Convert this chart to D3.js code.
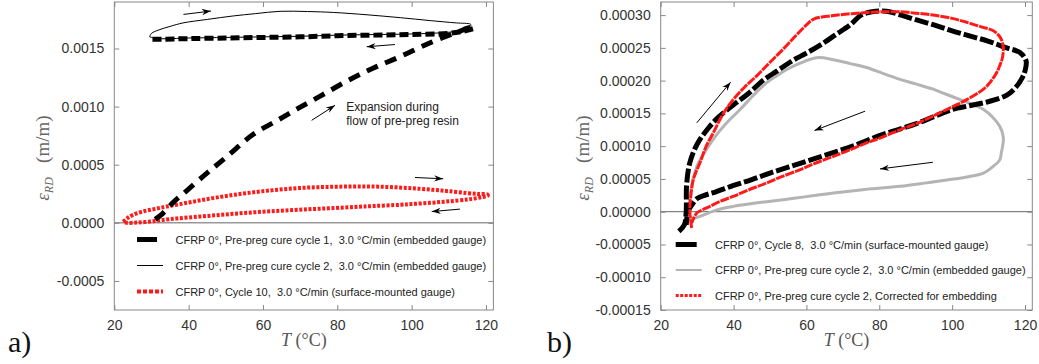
<!doctype html>
<html>
<head>
  <meta charset="utf-8" />
  <script src="https://d3js.org/d3.v7.min.js"></script>
  <style>
    body { margin: 0; background: #fff; }
    svg { display: block; }
    .tick-label { font-family: "Liberation Sans", Arial, sans-serif; font-size: 14px; fill: #333; }
    .legend-text { font-family: "Liberation Sans", Arial, sans-serif; font-size: 11px; fill: #222; white-space: pre; }
    .note { font-family: "Liberation Sans", Arial, sans-serif; font-size: 12px; fill: #222; }
    .serif { font-family: "Liberation Serif", "Times New Roman", serif; }
  </style>
</head>
<body>
<svg width="1039" height="364"></svg>
<script>
// ---- panel a data (T in °C, strain in m/m) ----
var aCycle1HeatT = [31, 33, 36, 39.6, 45, 50.3, 57.3, 63.8, 69.2, 75.4, 82.6, 89.6, 96.9, 105, 112.3, 115.8, 116.5];
var aCycle1HeatS = [0.00003, 0.00008, 0.00018, 0.00028, 0.00043, 0.00057, 0.00076, 0.00088, 0.00098, 0.00109, 0.00122, 0.00133, 0.00143, 0.00155, 0.00164, 0.00168, 0.00167];
var aCycle1CoolT = [116.5, 114, 110, 100, 90, 80, 70, 60, 50, 40, 33, 30];
var aCycle1CoolS = [0.00167, 0.00165, 0.00163, 0.00162, 0.001615, 0.00161, 0.0016, 0.001595, 0.00159, 0.001585, 0.00158, 0.00158];
var aCycle2T = [29.5, 30, 32, 35, 38.5, 45, 52, 58, 64.6, 72, 79, 88, 97, 105, 112, 115.8, 116, 114, 110, 100, 90, 80, 70, 60, 50, 40, 32, 29.5];
var aCycle2S = [0.0016, 0.00163, 0.00166, 0.00169, 0.00172, 0.00175, 0.00178, 0.0018, 0.00182, 0.001818, 0.00181, 0.00179, 0.001765, 0.00174, 0.00172, 0.00171, 0.0017, 0.00166, 0.00164, 0.001625, 0.00162, 0.001615, 0.001605, 0.0016, 0.001595, 0.00159, 0.001585, 0.0016];
var aCycle10T = [22.4, 23.5, 25.1, 28, 31, 34.1, 40, 46, 52, 58, 64, 70, 76, 82, 88, 94, 100, 105.8, 110, 114.9, 118, 120.3, 120.5, 119, 117, 114.9, 110, 105, 100, 96.9, 90, 85, 79, 73, 67, 61, 55, 49, 43, 37, 33, 29.6, 26, 23.3, 22.4];
var aCycle10S = [0.00001, 0.00004, 0.00007, 0.0001, 0.00012, 0.00014, 0.000175, 0.00021, 0.00024, 0.000265, 0.000285, 0.0003, 0.000308, 0.000312, 0.000313, 0.000308, 0.000298, 0.000284, 0.000272, 0.000256, 0.000248, 0.000245, 0.000235, 0.000222, 0.00021, 0.0002, 0.000185, 0.000172, 0.000162, 0.000155, 0.000145, 0.000137, 0.000127, 0.000118, 0.000108, 0.0000975, 0.000085, 0.00007, 0.000054, 0.000038, 0.000025, 0.000011, 0.000002, 0, 0.00001];

// ---- panel b data ----
var bCycle8T = [25, 26.5, 27, 27.1, 28, 30, 33, 36, 40, 44, 48, 52, 56, 60, 64, 68, 72, 75, 78, 82, 86, 90, 95, 100, 105, 110, 115, 118.6, 120.3, 120, 119.3, 117.5, 115, 110, 105, 100, 95, 90, 85, 80, 75, 70, 65, 60, 55, 50, 45, 40, 35, 32, 30, 28.5, 27.5, 27];
var bCycle8S = [-0.00003, -0.00002, 0, 0.00004, 0.000075, 0.000103, 0.000127, 0.000145, 0.000163, 0.00018, 0.0002, 0.000215, 0.00023, 0.000242, 0.000255, 0.00027, 0.000285, 0.0003, 0.000305, 0.000306, 0.0003, 0.000293, 0.000285, 0.000276, 0.000268, 0.00026, 0.00025, 0.000243, 0.00023, 0.000215, 0.000205, 0.00019, 0.000178, 0.000168, 0.000162, 0.000156, 0.000145, 0.000134, 0.000125, 0.000116, 0.000105, 0.000095, 0.000086, 0.000077, 0.000068, 0.000059, 0.000049, 0.00004, 0.00003, 0.000025, 0.00002, 0.00001, 0, -0.00002];
var bEmbedT = [27.5, 27.8, 28.5, 30, 32, 35, 38, 41.8, 45, 49.1, 52, 54.6, 58, 62.8, 67.4, 72, 76.5, 81, 85.7, 90, 94.8, 98, 102.2, 105.5, 108.6, 111, 113.1, 114, 114, 113.5, 113.1, 111, 108.6, 104, 99.4, 93, 85.7, 76, 67.4, 60, 53.6, 47, 39.9, 35, 30.8, 28];
var bEmbedS = [-0.000015, 0.00001, 0.00004, 0.00007, 0.00009, 0.000115, 0.000135, 0.000156, 0.000175, 0.000197, 0.000208, 0.000217, 0.000226, 0.000235, 0.000232, 0.000226, 0.00022, 0.000211, 0.000202, 0.000195, 0.000187, 0.00018, 0.000171, 0.000164, 0.000156, 0.000145, 0.00013, 0.000115, 0.000105, 0.00009, 0.0000795, 0.000068, 0.000059, 0.000053, 0.000049, 0.000044, 0.0000387, 0.000034, 0.0000286, 0.000023, 0.0000183, 0.000014, 0.0000081, 0.000002, -0.0000072, -0.000012];
var bCorrT = [28.5, 28, 28.2, 29, 30.8, 32.5, 34.4, 37, 39.9, 43, 46.3, 50, 53.6, 57, 60, 62, 67, 72, 76.5, 80, 85.7, 90, 94.8, 100, 104, 108, 111.3, 113.2, 114, 113.8, 113, 112.2, 110.5, 108.6, 104, 100, 94.8, 90, 85.7, 80, 76.5, 70, 67.4, 62, 58.3, 53, 49.1, 44, 39.9, 36, 33.5, 31.5, 29.9, 28.5];
var bCorrS = [-0.000025, 0, 0.00002, 0.00005, 0.000075, 0.0001, 0.00012, 0.000148, 0.000171, 0.00019, 0.000207, 0.000228, 0.000248, 0.000268, 0.000285, 0.000294, 0.000299, 0.000302, 0.000304, 0.000305, 0.000305, 0.000303, 0.0003, 0.000295, 0.000289, 0.000282, 0.000276, 0.000266, 0.000252, 0.000235, 0.000222, 0.000212, 0.000198, 0.000187, 0.000171, 0.00016, 0.000146, 0.000134, 0.000125, 0.000112, 0.000105, 0.00009, 0.0000845, 0.000073, 0.0000642, 0.000053, 0.0000439, 0.000033, 0.0000234, 0.000015, 0.0000081, 0.000003, -0.000002, -0.000017];

// ticks
var xTicks = [20, 40, 60, 80, 100, 120];
var aYTicks = [-0.0005, 0, 0.0005, 0.001, 0.0015];
var bYTicks = [-0.00015, -0.0001, -0.00005, 0, 0.00005, 0.0001, 0.00015, 0.0002, 0.00025, 0.0003];

// legends
var aLegend = ["CFRP 0°, Pre-preg cure cycle 1,  3.0 °C/min (embedded gauge)",
               "CFRP 0°, Pre-preg cure cycle 2,  3.0 °C/min (embedded gauge)",
               "CFRP 0°, Cycle 10,  3.0 °C/min (surface-mounted gauge)"];
var bLegend = ["CFRP 0°, Cycle 8,  3.0 °C/min (surface-mounted gauge)",
               "CFRP 0°, Pre-preg cure cycle 2,  3.0 °C/min (embedded gauge)",
               "CFRP 0°, Pre-preg cure cycle 2, Corrected for embedding"];

// arrows [T0, s0, T1, s1]
var aArrows = [[38.6, 0.001793, 46, 0.001822], [95.5, 0.001534, 87.9, 0.001515],
               [73.1, 0.000882, 79.4, 0.001011], [100.9, 0.00039, 108.5, 0.000379],
               [113, 0.000118, 105.4, 0.000097]];
var bArrows = [[29.9, 0.0001356, 39.2, 0.0001977], [76.1, 0.0001534, 62.2, 0.0001239],
               [94.7, 0.0000754, 80.2, 0.0000653]];

var svg = d3.select("svg");

svg.append("defs").append("marker")
  .attr("id", "head")
  .attr("viewBox", "0 -5 10 10")
  .attr("refX", 10).attr("refY", 0)
  .attr("markerWidth", 9).attr("markerHeight", 9)
  .attr("markerUnits", "userSpaceOnUse")
  .attr("orient", "auto")
  .append("path")
  .attr("d", "M0,-3.5L10,0L0,3.5L3,0Z")
  .attr("fill", "#000");

function zip(t, s) {
  return t.map(function(d, i) { return [d, s[i]]; });
}

function panel(opt) {
  var g = svg.append("g");
  var x = d3.scaleLinear().domain([20, 122]).range([opt.left, opt.right]);
  var y = d3.scaleLinear().domain(opt.yDomain).range([opt.bottom, opt.top]);
  var line = d3.line()
    .x(function(d) { return x(d[0]); })
    .y(function(d) { return y(d[1]); })
    .curve(d3.curveCatmullRom.alpha(0.5));

  // zero line
  g.append("line")
    .attr("x1", opt.left).attr("x2", opt.right)
    .attr("y1", y(0)).attr("y2", y(0))
    .attr("stroke", "#666").attr("stroke-width", 1);

  opt.series.forEach(function(s) {
    g.append("path")
      .attr("d", line(zip(s.t, s.s)))
      .attr("fill", "none")
      .attr("stroke", s.color)
      .attr("stroke-width", s.width)
      .attr("stroke-dasharray", s.dash || null)
      .attr("stroke-linejoin", "round");
  });

  // frame and inward ticks
  g.append("rect")
    .attr("x", opt.left).attr("y", opt.top)
    .attr("width", opt.right - opt.left).attr("height", opt.bottom - opt.top)
    .attr("fill", "none").attr("stroke", "#888").attr("stroke-width", 1);

  var axB = d3.axisBottom(x).tickValues(xTicks).tickSize(-5).tickPadding(10).tickFormat(d3.format("d"));
  var axT = d3.axisTop(x).tickValues(xTicks).tickSize(-5).tickFormat("");
  var axL = d3.axisLeft(y).tickValues(opt.yTicks).tickSize(-5).tickPadding(10).tickFormat(d3.format(opt.fmt));
  var axR = d3.axisRight(y).tickValues(opt.yTicks).tickSize(-5).tickFormat("");

  [[axB, "translate(0," + opt.bottom + ")"], [axT, "translate(0," + opt.top + ")"],
   [axL, "translate(" + opt.left + ",0)"], [axR, "translate(" + opt.right + ",0)"]].forEach(function(a) {
    var ag = g.append("g").attr("transform", a[1]).call(a[0]);
    ag.select(".domain").remove();
    ag.selectAll("line").attr("stroke", "#888");
    ag.selectAll("text").attr("class", "tick-label").attr("font-size", null).attr("font-family", null).attr("fill", null);
  });
  g.selectAll(".tick-label").text(function() { return this.textContent.replace("−", "-"); });

  // arrows
  opt.arrows.forEach(function(a) {
    g.append("line")
      .attr("x1", x(a[0])).attr("y1", y(a[1]))
      .attr("x2", x(a[2])).attr("y2", y(a[3]))
      .attr("stroke", "#000").attr("stroke-width", 1)
      .attr("marker-end", "url(#head)");
  });

  // legend
  opt.legend.forEach(function(txt, i) {
    var s = opt.series[opt.legendOrder[i]];
    var ly = opt.legendY + i * opt.legendStep;
    g.append("line")
      .attr("x1", opt.legendX).attr("x2", opt.legendX + (s.swatch || 26))
      .attr("y1", ly).attr("y2", ly)
      .attr("stroke", s.color)
      .attr("stroke-width", s.legendWidth || s.width)
      .attr("stroke-dasharray", s.legendDash || null);
    g.append("text")
      .attr("class", "legend-text")
      .attr("x", opt.textX).attr("y", ly + 4)
      .text(txt);
  });

  // axis labels
  var cx = (opt.left + opt.right) / 2;
  var xl = g.append("text").attr("class", "serif")
    .attr("x", cx).attr("y", 346).attr("text-anchor", "middle")
    .attr("font-size", 18).attr("fill", "#555");
  xl.append("tspan").attr("font-style", "italic").text("T");
  xl.append("tspan").text(" (°C)");

  var yl = g.append("text").attr("class", "serif")
    .attr("transform", "translate(" + opt.yLabelX + "," + ((opt.top + opt.bottom) / 2 + 2) + ") rotate(-90)")
    .attr("text-anchor", "middle").attr("font-size", 19).attr("fill", "#666");
  yl.append("tspan").attr("font-style", "italic").text("ε");
  yl.append("tspan").attr("font-style", "italic").attr("font-size", 12).attr("dy", 4).text("RD");
  yl.append("tspan").attr("dy", -4).style("white-space", "pre").text("   (m/m)");

  svg.append("text").attr("class", "serif")
    .attr("x", opt.tagX).attr("y", 352)
    .attr("font-size", 30).attr("fill", "#111")
    .text(opt.tag);

  return { x: x, y: y, g: g };
}

var pa = panel({
  left: 114.3, right: 493.4, top: 2, bottom: 310,
  yDomain: [-0.00075, 0.0019], yTicks: aYTicks, fmt: ".4f",
  series: [
    { t: aCycle10T, s: aCycle10S, color: "#ff1a1a", width: 4, dash: "3,1.6", legendDash: "4,2" },
    { t: aCycle1HeatT, s: aCycle1HeatS, color: "#000", width: 5, dash: "12,8", swatch: 20, legendDash: null },
    { t: aCycle1CoolT, s: aCycle1CoolS, color: "#000", width: 5, dash: "9,4" },
    { t: aCycle2T, s: aCycle2S, color: "#000", width: 1 }
  ],
  legendOrder: [1, 3, 0],
  legend: aLegend, legendX: 137, textX: 175.5, legendY: 239.5, legendStep: 26,
  arrows: aArrows, yLabelX: 49, tag: "a)", tagX: 8
});

pa.g.append("text").attr("class", "note")
  .attr("x", pa.x(82.4)).attr("y", pa.y(0.000965))
  .text("Expansion during");
pa.g.append("text").attr("class", "note")
  .attr("x", pa.x(82.4)).attr("y", pa.y(0.000965) + 14)
  .text("flow of pre-preg resin");

var pb = panel({
  left: 660.7, right: 1032.3, top: 2, bottom: 310,
  yDomain: [-0.00015, 0.00032], yTicks: bYTicks, fmt: ".5f",
  series: [
    { t: bEmbedT, s: bEmbedS, color: "#b4b4b4", width: 3, legendWidth: 2 },
    { t: bCycle8T, s: bCycle8S, color: "#000", width: 5, dash: "14,3", swatch: 21, legendDash: null },
    { t: bCorrT, s: bCorrS, color: "#ff1a1a", width: 3, dash: "9,1", legendDash: "3,1.5" }
  ],
  legendOrder: [1, 0, 2],
  legend: bLegend, legendX: 675.7, textX: 715, legendY: 244.5, legendStep: 25.5,
  arrows: bArrows, yLabelX: 589, tag: "b)", tagX: 547
});
</script>
</body>
</html>
